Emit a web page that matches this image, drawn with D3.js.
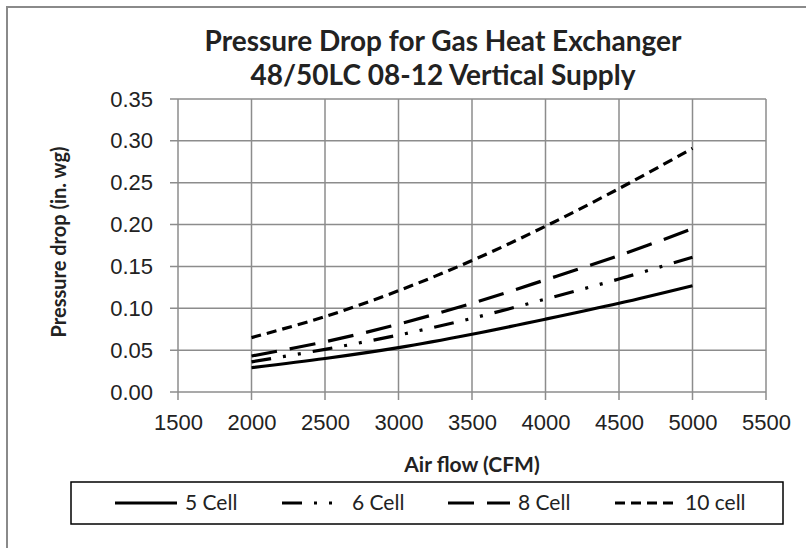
<!DOCTYPE html>
<html>
<head>
<meta charset="utf-8">
<script src="https://cdn.jsdelivr.net/npm/d3@7"></script>
<style>
  body { margin: 0; background: #fff; }
  svg { display: block; font-family: Lato, 'Open Sans', sans-serif; }
</style>
</head>
<body>
<svg id="chart" width="806" height="548"></svg>
<script>
/* global d3 */
// chart values
const airflow = [2000, 2500, 3000, 3500, 4000, 4500, 5000]
const cell5 = [0.029, 0.040, 0.053, 0.069, 0.087, 0.106, 0.127]
const cell6 = [0.036, 0.051, 0.068, 0.088, 0.111, 0.135, 0.161]
const cell8 = [0.043, 0.060, 0.081, 0.106, 0.134, 0.163, 0.195]
const cell10 = [0.065, 0.090, 0.121, 0.157, 0.198, 0.243, 0.291]
const seriesNames = ['5 Cell', '6 Cell', '8 Cell', '10 cell']
const xTicks = [1500, 2000, 2500, 3000, 3500, 4000, 4500, 5000, 5500]
const yTicks = [0, 0.05, 0.10, 0.15, 0.20, 0.25, 0.30, 0.35]

const dashes = ['none', '20,12,3,12,3,12', '26,13', '10,6']
const series = [cell5, cell6, cell8, cell10].map((vals, i) => ({
  name: seriesNames[i],
  dash: dashes[i],
  points: vals.map((v, j) => [airflow[j], v])
}))

const svg = d3.select('#chart')
const gridColor = '#8c8c8c'

svg.append('rect').attr('width', 806).attr('height', 548).attr('fill', '#fff')

// outer chart frame (cut off at right and bottom in the original)
svg.append('path')
  .attr('d', 'M7,548 V7 H806')
  .attr('fill', 'none')
  .attr('stroke', '#8a8a8a')
  .attr('stroke-width', 2)

const x = d3.scaleLinear().domain([1500, 5500]).range([178, 766])
const y = d3.scaleLinear().domain([0, 0.35]).range([392, 99])

// gridlines, with the small outside ticks
const grid = svg.append('g')
grid.selectAll('line.v').data(xTicks).join('line')
  .attr('x1', d => x(d)).attr('x2', d => x(d))
  .attr('y1', y(0.35)).attr('y2', y(0) + 8)
  .attr('stroke', gridColor).attr('stroke-width', 1.5)
grid.selectAll('line.h').data(yTicks).join('line')
  .attr('x1', x(1500) - 8).attr('x2', x(5500))
  .attr('y1', d => y(d)).attr('y2', d => y(d))
  .attr('stroke', gridColor).attr('stroke-width', 1.5)

// axes (labels only, lines drawn by the grid)
const yAxis = d3.axisLeft(y).tickValues(yTicks).tickFormat(d3.format('.2f')).tickSize(8).tickPadding(17)
const xAxis = d3.axisBottom(x).tickValues(xTicks).tickFormat(d3.format('d')).tickSize(8).tickPadding(14)

svg.append('g').attr('transform', `translate(${x(1500)},0)`).call(yAxis)
  .call(g => g.select('.domain').remove())
  .call(g => g.selectAll('line').remove())
  .call(g => g.selectAll('text').style('font-size', '22px').attr('fill', '#222'))

svg.append('g').attr('transform', `translate(0,${y(0)})`).call(xAxis)
  .call(g => g.select('.domain').remove())
  .call(g => g.selectAll('line').remove())
  .call(g => g.selectAll('text').style('font-size', '22px').attr('fill', '#222'))

// series lines
const line = d3.line()
  .curve(d3.curveCatmullRom)
  .x(d => x(d[0]))
  .y(d => y(d[1]))

svg.append('g').selectAll('path').data(series).join('path')
  .attr('d', d => line(d.points))
  .attr('fill', 'none')
  .attr('stroke', '#000')
  .attr('stroke-width', 3.2)
  .attr('stroke-dasharray', d => d.dash)

// titles
const title = svg.append('text')
  .attr('text-anchor', 'middle')
  .style('font-weight', 'bold')
  .style('font-size', '28px')
  .attr('fill', '#222')
title.append('tspan').attr('x', 443).attr('y', 51).text('Pressure Drop for Gas Heat Exchanger')
title.append('tspan').attr('x', 443).attr('y', 85).text('48/50LC 08-12 Vertical Supply')

svg.append('text')
  .attr('transform', 'translate(66,242) rotate(-90)')
  .attr('text-anchor', 'middle')
  .style('font-weight', 'bold')
  .style('font-size', '20px')
  .attr('fill', '#222')
  .text('Pressure drop (in. wg)')

svg.append('text')
  .attr('x', 472).attr('y', 472)
  .attr('text-anchor', 'middle')
  .style('font-weight', 'bold')
  .style('font-size', '21px')
  .attr('fill', '#222')
  .text('Air flow (CFM)')

// legend
svg.append('rect')
  .attr('x', 71).attr('y', 482).attr('width', 712).attr('height', 42)
  .attr('fill', '#fff').attr('stroke', '#000').attr('stroke-width', 1.5)

const legendX = [115, 282, 448, 615]
const item = svg.append('g').selectAll('g').data(series).join('g')
  .attr('transform', (d, i) => `translate(${legendX[i]},503)`)
item.append('line')
  .attr('x1', 0).attr('x2', 62)
  .attr('stroke', '#000').attr('stroke-width', 3.2)
  .attr('stroke-dasharray', d => d.dash)
item.append('text')
  .attr('x', 70).attr('dy', '0.35em')
  .style('font-size', '21px')
  .attr('fill', '#222')
  .text(d => d.name)
</script>
</body>
</html>
